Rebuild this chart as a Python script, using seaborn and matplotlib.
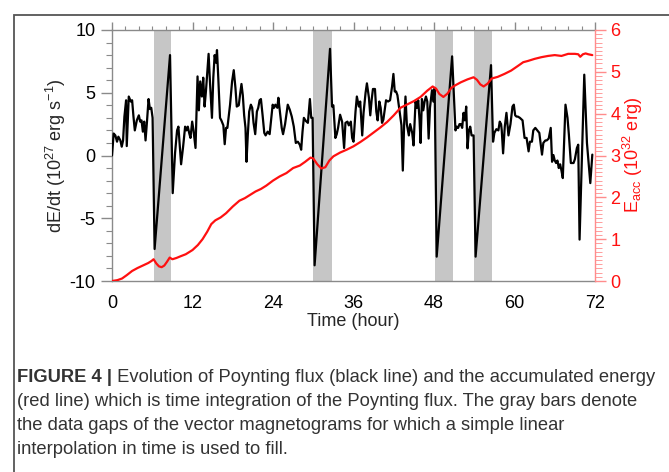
import numpy as np
import pandas as pd
import matplotlib
matplotlib.use("Agg")
import matplotlib.pyplot as plt
import seaborn as sns
from matplotlib.ticker import MultipleLocator
from matplotlib.patches import Rectangle

# ---------------- data ----------------
flux_time = [0.0, 0.25, 0.5, 0.75, 0.95, 1.25, 1.45, 1.65, 1.85, 2.1, 2.2, 2.5, 2.8, 3.0,
             3.2, 3.4, 3.7, 4.0, 4.2, 4.4, 4.6, 4.8, 5.0, 5.2, 5.45, 5.65, 5.85, 6.05,
             6.35, 8.65, 9.05, 9.4, 9.7, 9.9, 10.1, 10.3, 10.6, 10.9, 11.1, 11.3, 11.5,
             11.7, 11.95, 12.15, 12.45, 12.75, 12.95, 13.15, 13.4, 13.6, 13.8, 14.0, 14.4,
             14.6, 14.9, 15.1, 15.3, 15.5, 15.65, 15.85, 16.1, 16.3, 16.6, 16.8, 17.0, 17.2,
             17.6, 17.9, 18.15, 18.4, 18.6, 18.9, 19.1, 19.3, 19.5, 19.7, 19.9, 20.05, 20.25,
             20.45, 20.7, 20.9, 21.1, 21.35, 21.6, 21.8, 22.0, 22.2, 22.45, 22.7, 22.9, 23.2,
             23.5, 23.95, 24.15, 24.35, 24.65, 24.8, 25.0, 25.3, 25.5, 25.8, 26.2, 26.5,
             26.8, 27.1, 27.4, 27.7, 28.0, 28.2, 28.4, 28.6, 28.9, 29.2, 29.5, 29.7, 29.9,
             30.2, 32.5, 32.8, 33.0, 33.3, 33.5, 33.7, 34.0, 34.3, 34.6, 34.8, 35.1, 35.3,
             35.6, 35.8, 36.0, 36.3, 36.5, 36.8, 37.0, 37.3, 37.5, 37.8, 38.0, 38.3, 38.5,
             38.7, 38.9, 39.2, 39.4, 39.6, 39.85, 40.05, 40.25, 40.45, 40.65, 40.85, 41.15,
             41.45, 41.75, 41.95, 42.15, 42.35, 42.55, 42.85, 43.15, 43.35, 43.55, 43.75,
             43.95, 44.25, 44.45, 44.75, 44.95, 45.25, 45.45, 45.65, 45.85, 46.0, 46.2, 46.4,
             46.6, 46.8, 47.0, 47.2, 47.4, 47.7, 47.9, 48.1, 48.4, 50.7, 51.2, 51.4, 51.6,
             51.8, 52.0, 52.2, 52.4, 52.6, 52.8, 53.0, 53.2, 53.4, 53.6, 53.9, 54.2, 56.5,
             56.8, 57.0, 57.3, 57.6, 57.8, 58.0, 58.1, 58.3, 58.55, 58.8, 59.1, 59.4, 59.7,
             59.9, 60.1, 60.3, 60.5, 60.8, 61.2, 61.5, 61.8, 62.1, 62.3, 62.6, 62.8, 63.1,
             63.4, 63.7, 64.1, 64.3, 64.6, 64.8, 65.1, 65.4, 65.6, 65.8, 66.0, 66.2, 66.4,
             66.6, 66.8, 67.0, 67.2, 67.6, 67.9, 68.1, 68.4, 68.6, 68.8, 69.0, 69.3, 69.5,
             69.7, 70.4, 70.8, 71.3, 71.6]
flux_value = [0.0, 1.75, 1.6, 1.1, 1.5, 1.2, 0.7, 1.2, 3.1, 4.4, 0.75, 4.7, 4.3, 4.4,
              3.1, 2.0, 2.8, 3.2, 2.7, 2.8, 1.9, 2.7, 1.2, 2.6, 4.5, 3.7, 3.8, 3.0,
              -7.45, 8.0, -3.0, 0.2, 2.0, 2.3, 0.8, -0.7, 0.7, 2.3, 2.0, 2.3, 1.8,
              1.4, 2.7, 2.0, 0.6, 6.3, 3.6, 5.9, 4.7, 6.2, 3.9, 5.1, 8.1,
              5.9, 3.0, 6.2, 8.0, 7.4, 8.4, 6.1, 3.0, 2.8, 2.4, 0.9, 2.2, 2.2,
              4.05, 5.9, 6.8, 5.4, 3.9, 4.0, 4.9, 5.7, 4.8, 3.2, 2.2, -0.5, 1.7,
              3.5, 4.05, 3.8, 2.6, 1.7, 3.5, 3.8, 4.4, 4.5, 3.2, 1.8, 1.6, 1.9,
              1.7, 4.05, 3.8, 4.05, 3.8, 4.6, 3.65, 2.2, 1.7, 2.5, 4.05, 3.65,
              3.1, 2.3, 1.0, 1.1, 0.85, 0.46, 1.9, 3.0, 2.75, 2.6, 4.5, 3.0, 3.0,
              -8.75, 8.5, 3.9, 4.0, 1.4, 1.7, 2.2, 3.25, 2.7, 0.6, 2.6, 2.7, 2.4,
              2.7, 1.4, 1.1, 3.5, 4.7, 3.9, 4.3, 1.6, 3.4, 5.0, 5.75, 4.6, 3.2,
              4.4, 5.3, 5.3, 3.5, 2.8, 4.3, 3.8, 2.6, 2.85, 3.6, 4.4, 4.3,
              4.4, 5.5, 6.5, 5.1, 5.1, 4.8, 3.6, 2.4, -1.2, 2.5, 4.7,
              2.5, 1.6, 2.5, 1.8, 0.8, 4.3, 3.8, 4.4, 2.8, 1.0, 4.5, 3.6,
              4.3, 4.7, 4.3, 1.35, 3.8, 5.2, 4.3, 5.35, -8.06, 7.9, 2.0, 2.3, 2.2,
              2.5, 2.5, 2.2, 3.4, 2.8, 3.9, 0.57, 2.0, 2.3, 1.6, 1.6, -8.06, 7.2,
              1.1, 1.8, 2.1, 2.0, 2.7, 2.5, 2.0, 0.17, 2.3, 3.4, 1.6, 2.5, 3.9,
              4.05, 3.2, 3.1, 3.1, 3.0, 2.8, 1.4, 1.4, 0.33, 1.1, 1.1, 2.0, 2.2,
              2.0, 1.8, 0.07, 1.0, 1.2, 1.2, 1.35, 2.2, -0.5, 0.04, -0.4, -0.6, -0.4,
              -1.0, -0.7, -1.2, -1.8, 4.05, 3.0, 1.7, -0.6, -0.6, -0.6, -0.3, 0.6, 0.86,
              -6.7, 6.44, 1.0, -2.2, 0.07]

energy_time = [0.0, 0.8, 1.5, 2.2, 3.0, 3.8, 4.6, 5.4, 5.9, 6.2, 6.6, 7.0, 7.4, 7.8, 8.2,
               8.6, 9.0, 9.6, 10.2, 11.0, 12.0, 12.8, 13.5, 14.2, 14.8, 15.4, 16.2, 17.0,
               18.0, 19.0, 19.8, 20.6, 21.4, 22.2, 23.0, 24.0, 25.0, 26.0, 27.0, 28.0,
               28.8, 29.6, 30.0, 30.6, 31.2, 31.8, 32.4, 33.0, 34.0, 35.0, 36.0, 37.0,
               38.0, 39.0, 40.0, 41.0, 42.0, 43.0, 44.0, 45.0, 46.0, 47.0, 47.8, 48.3,
               48.8, 49.4, 50.0, 50.6, 51.2, 52.0, 53.0, 53.9, 54.4, 54.9, 55.4, 56.0,
               56.6, 57.5, 58.5, 59.5, 60.5, 61.3, 62.0, 63.0, 64.0, 65.0, 66.0, 67.0,
               68.0, 69.0, 69.5, 69.8, 70.2, 70.6, 71.0, 71.6]
energy_value = [0.0, 0.02, 0.06, 0.14, 0.24, 0.31, 0.37, 0.43, 0.48, 0.52, 0.42, 0.35,
                0.33, 0.37, 0.46, 0.56, 0.52, 0.55, 0.59, 0.64, 0.74, 0.86, 1.0, 1.18,
                1.36, 1.45, 1.52, 1.62, 1.78, 1.92, 1.98, 2.06, 2.14, 2.20, 2.28, 2.40,
                2.50, 2.58, 2.70, 2.76, 2.85, 2.95, 2.93, 2.79, 2.69, 2.72, 2.88, 2.98,
                3.07, 3.14, 3.22, 3.32, 3.43, 3.55, 3.67, 3.80, 3.96, 4.14, 4.22, 4.30,
                4.40, 4.55, 4.65, 4.60, 4.47, 4.40, 4.48, 4.62, 4.68, 4.75, 4.82, 4.87,
                4.81, 4.70, 4.65, 4.72, 4.84, 4.88, 4.95, 5.03, 5.14, 5.23, 5.26, 5.31,
                5.35, 5.38, 5.40, 5.38, 5.43, 5.43, 5.42, 5.36, 5.42, 5.44, 5.42, 5.40]

gap_start = [6.26, 30.0, 48.2, 54.0]
gap_end = [8.8, 32.76, 50.9, 56.7]

x_ticks = [0, 12, 24, 36, 48, 60, 72]
left_ticks = [-10, -5, 0, 5, 10]
right_ticks = [0, 1, 2, 3, 4, 5, 6]

caption_bold = "FIGURE 4 |"
caption_lines = [
    " Evolution of Poynting flux (black line) and the accumulated energy",
    "(red line) which is time integration of the Poynting flux. The gray bars denote",
    "the data gaps of the vector magnetograms for which a simple linear",
    "interpolation in time is used to fill.",
]

# ---------------- style ----------------
sns.set_style("white")
FONTS = ["Liberation Sans", "DejaVu Sans"]
plt.rcParams["font.family"] = FONTS
plt.rcParams["mathtext.fontset"] = "custom"
plt.rcParams["mathtext.rm"] = "Liberation Sans"
plt.rcParams["mathtext.it"] = "Liberation Sans"
plt.rcParams["mathtext.default"] = "regular"
plt.rcParams["axes.unicode_minus"] = False

W, H = 669, 472
fig = plt.figure(figsize=(W / 100, H / 100), dpi=100)
fig.patch.set_facecolor("white")

L, R, T, B = 112, 595, 30, 281
ax = fig.add_axes([L / W, 1 - B / H, (R - L) / W, (B - T) / H])
ax2 = ax.twinx()

flux_df = pd.DataFrame({"time": flux_time, "flux": flux_value})
energy_df = pd.DataFrame({"time": energy_time, "energy": energy_value})

for s, e in zip(gap_start, gap_end):
    ax.axvspan(s, e, color="#c6c6c6", lw=0, zorder=0)

sns.lineplot(data=flux_df, x="time", y="flux", ax=ax, color="black", lw=1.6,
             estimator=None, sort=False, zorder=3)
sns.lineplot(data=energy_df, x="time", y="energy", ax=ax2, color="#ff1010", lw=1.6,
             estimator=None, sort=False, zorder=3)

ax.set_xlim(0, 72)
ax.set_ylim(-10, 10)
ax2.set_ylim(0, 6)
ax.set_xticks(x_ticks)
ax.set_yticks(left_ticks)
ax2.set_yticks(right_ticks)
ax.xaxis.set_minor_locator(MultipleLocator(2))
ax.yaxis.set_minor_locator(MultipleLocator(1))
ax2.yaxis.set_minor_locator(MultipleLocator(0.1))

gray = "#8a8a8a"
for side in ["left", "bottom", "top"]:
    ax.spines[side].set_color(gray)
    ax.spines[side].set_linewidth(1.0)
ax.spines["right"].set_visible(False)
for side in ["left", "bottom", "top"]:
    ax2.spines[side].set_visible(False)
ax2.spines["right"].set_color("#ff8c8c")
ax2.spines["right"].set_linewidth(1.0)

ax.tick_params(axis="both", which="major", direction="out", length=8, width=1,
               color=gray, labelsize=13, pad=4, top=True, right=False, labelcolor="black")
ax.tick_params(axis="both", which="minor", direction="out", length=4, width=0.8,
               color=gray, top=True, right=False)
ax.tick_params(axis="x", which="major", length=6)
ax.tick_params(axis="x", which="minor", length=3)
ax2.tick_params(axis="y", which="major", direction="out", length=8, width=1,
                color="#ff8c8c", labelcolor="#ff1010", labelsize=13, pad=3)
ax2.tick_params(axis="y", which="minor", direction="out", length=5, width=0.7,
                color="#ff9c9c")

ax.set_xlabel("Time (hour)", fontsize=13, labelpad=1)
ax.set_ylabel("dE/dt (10$^{27}$ erg s$^{-1}$)", fontsize=13, labelpad=1)
ax2.set_ylabel("E$_{acc}$ (10$^{32}$ erg)", fontsize=13, color="#ff1010", labelpad=0)
ax.grid(False)
ax2.grid(False)

# outer frame
fig.add_artist(Rectangle((14 / W, -0.2), 2, 1.2 - 15 / H, transform=fig.transFigure,
                         fill=False, edgecolor="#555555", lw=1.3))

# caption
cap_color = "#333333"
cap_size = 13.2
y0 = 377
dy = 24
renderer = fig.canvas.get_renderer()
tb = fig.text(17 / W, 1 - y0 / H, caption_bold, fontsize=cap_size, fontweight="bold",
              color=cap_color, va="center", ha="left")
bb = tb.get_window_extent(renderer=renderer)
fig.text(bb.x1 / W, 1 - y0 / H, caption_lines[0], fontsize=cap_size, color=cap_color,
         va="center", ha="left")
for i, line in enumerate(caption_lines[1:], start=1):
    fig.text(17 / W, 1 - (y0 + i * dy) / H, line, fontsize=cap_size, color=cap_color,
             va="center", ha="left")

fig.savefig("out.png", dpi=100)
